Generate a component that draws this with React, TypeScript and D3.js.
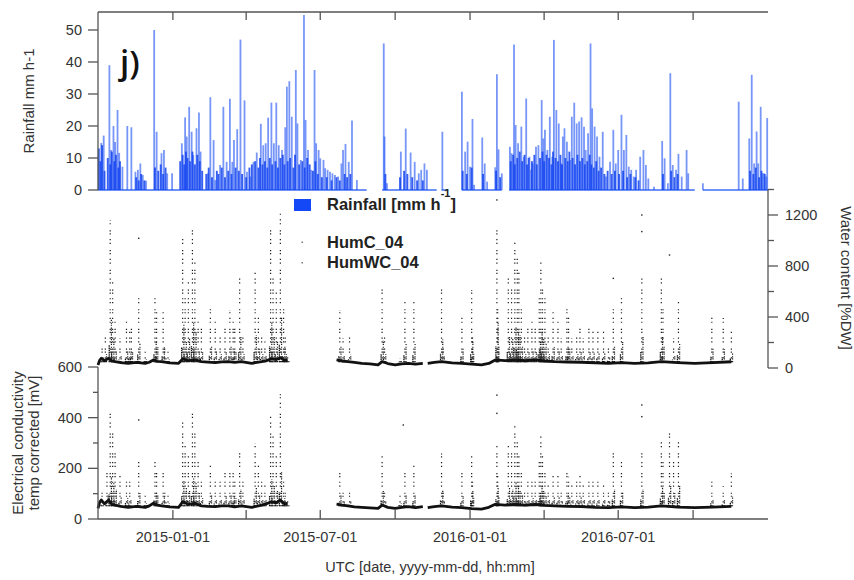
import React from 'react';
import * as d3 from 'd3';

// rainfall events: [days since 2014-10-01, mm h-1]
const rainfall: [number, number][] = [
  [4, 14.7], [7, 17], [14, 39], [16, 12.5], [19, 20], [21, 15], [24, 25], [26, 11.6], [30, 7.3], [36, 20], [41, 19.6],
  [46, 5.7], [49, 6.3], [52, 8.3], [55, 4.7], [59, 2.9], [69, 50], [72, 18.2], [78, 11.5], [81, 12.5], [85, 5.2], [91, 5.2],
  [103, 14.6], [107, 22.7], [109, 16.7], [112, 26], [115, 18.2], [117, 10.9], [121, 19.3], [124, 24.2], [126, 12], [135, 5.2],
  [138, 29], [142, 15.6], [144, 3.1], [150, 7.8], [154, 26], [158, 8.8], [162, 28.5], [165, 8.8], [167, 15.6], [171, 19],
  [175, 47], [180, 28], [183, 5.7], [187, 4.2], [191, 8.8], [195, 11.7], [200, 20.7], [203, 14], [206, 14.6], [209, 22.6],
  [213, 27.3], [216, 14.6], [219, 27.3], [222, 14], [226, 12.5], [230, 19.6], [232, 32.3], [235, 34], [238, 22.9], [243, 37.5],
  [245, 20.8], [249, 9.4], [253, 54.7], [255, 21.9], [258, 12.5], [262, 6.3], [266, 37.5], [268, 14.6], [271, 12.5], [273, 9.9],
  [277, 9.4], [279, 6.8], [282, 6.3], [285, 5.7], [288, 5.2], [291, 4.7], [295, 4.2], [299, 8.3], [301, 12.5], [304, 14.4],
  [308, 8.8], [312, 21.7], [318, 3.1], [351, 45.8], [352, 16.7], [355, 2.1], [372, 12], [378, 19.2], [384, 11.7], [389, 8.8],
  [394, 5.2], [397, 6.3], [401, 8.3], [404, 6.3], [423, 18.2], [447, 30.7], [451, 12], [454, 15.1], [457, 7.3], [460, 22.2],
  [462, 1.6], [472, 16.4], [475, 8.3], [478, 2.6], [488, 7.1], [490, 36.2], [492, 12.7], [496, 5.2], [506, 13.5], [508, 11.5],
  [511, 45.5], [513, 20.3], [516, 14.6], [520, 19.8], [523, 10.4], [526, 28.6], [530, 10.4], [532, 6.3], [534, 8.3], [538, 13.5],
  [541, 14], [545, 28.1], [547, 16.1], [549, 18.8], [552, 12.5], [555, 22.9], [558, 10.4], [560, 46.9], [563, 25], [566, 20.8],
  [569, 8.3], [571, 16.7], [573, 19.3], [576, 15.1], [580, 9.4], [582, 22.9], [585, 27.3], [588, 20.8], [591, 21.4], [594, 22.7],
  [597, 19.8], [599, 12.5], [602, 17.7], [605, 45.8], [607, 25.5], [610, 19.8], [613, 16.7], [616, 10.4], [620, 18.2], [624, 4.2],
  [629, 8.8], [633, 18.8], [636, 8.3], [639, 12.5], [643, 23.5], [646, 12.5], [649, 17.2], [652, 7.3], [655, 6.3], [658, 4.2],
  [661, 6.3], [666, 10.4], [670, 12.5], [673, 7.8], [676, 3.6], [683, 1], [693, 15.3], [696, 9.9], [700, 2.1], [703, 36.5],
  [706, 7.8], [710, 6.3], [713, 11.3], [717, 4.2], [723, 12.5], [725, 5.2], [743, 2.1], [787, 27.6], [792, 3.6], [800, 16.1],
  [803, 36], [806, 8.3], [809, 18.3], [811, 8.3], [814, 26], [816, 5.2], [818, 5.2], [821, 4.2], [822, 22.5],
];

// frequent low-intensity hours in the wet periods: [day, mm h-1]
const rainLow: [number, number][] = [
  [1, 13], [3, 9], [5, 14], [8, 6], [12, 10], [15, 8], [17, 12], [20, 9], [22, 11], [25, 7], [27, 9], [47, 4], [50, 3], [53, 5],
  [57, 3], [70, 7], [74, 6], [77, 8], [80, 5], [83, 7], [101, 9], [104, 11], [106, 8], [108, 12], [110, 10], [113, 9], [116, 12],
  [119, 8], [122, 11], [125, 9], [128, 6], [133, 5], [136, 7], [140, 4], [146, 6], [148, 5], [152, 7], [156, 4], [160, 6],
  [164, 5], [169, 7], [173, 6], [177, 5], [182, 4], [186, 7], [189, 8], [193, 9], [197, 7], [199, 10], [202, 8], [205, 9],
  [208, 7], [211, 10], [214, 8], [218, 9], [221, 7], [224, 10], [227, 11], [229, 8], [233, 9], [236, 10], [240, 7], [242, 11],
  [247, 8], [251, 9], [254, 7], [257, 10], [260, 8], [264, 6], [267, 9], [270, 5], [275, 4], [281, 4], [287, 3], [293, 4],
  [297, 3], [303, 5], [306, 4], [310, 5], [353, 5], [371, 4], [376, 6], [380, 5], [386, 4], [392, 3], [399, 3], [448, 6],
  [453, 5], [459, 7], [473, 5], [489, 6], [494, 4], [507, 9], [510, 11], [512, 8], [515, 10], [518, 12], [521, 9], [524, 11],
  [527, 8], [529, 10], [533, 9], [536, 11], [539, 8], [543, 10], [546, 12], [548, 9], [551, 11], [554, 10], [557, 8], [559, 12],
  [562, 10], [565, 9], [568, 11], [570, 8], [574, 10], [577, 9], [579, 12], [583, 10], [586, 8], [589, 11], [592, 9], [595, 10],
  [598, 8], [601, 9], [604, 11], [606, 8], [609, 7], [612, 9], [615, 6], [618, 7], [622, 5], [626, 6], [631, 5], [635, 6],
  [640, 5], [645, 6], [650, 4], [654, 5], [660, 4], [664, 3], [694, 5], [704, 6], [708, 4], [712, 5], [801, 6], [805, 5],
  [808, 7], [812, 4], [815, 6], [819, 5],
];

// periods with rain gauge records [from day, to day]
const rainRecords: [number, number][] = [[0, 330], [349, 416], [422, 429], [447, 496], [505, 733], [743, 823]];

// HumC_04 water content [%DW] baseline runs
const humcBaseline: [number, number][][] = [
  [[0, 24], [2, 60], [4, 76], [8, 58], [13, 76], [17, 55], [21, 50], [28, 42], [37, 37], [47, 44], [58, 37], [63, 45], [68, 63],
   [73, 52], [78, 50], [88, 40], [99, 37], [104, 71], [111, 58], [119, 63], [127, 50], [135, 46], [144, 42], [152, 48], [160, 50],
   [168, 44], [176, 50], [189, 37], [201, 50], [207, 58], [213, 71], [219, 66], [224, 81], [229, 60], [233, 63]],
  [[293, 63], [300, 55], [307, 50], [315, 44], [324, 37], [334, 33], [344, 24], [349, 50], [356, 35], [365, 24], [373, 33],
   [381, 37], [390, 31], [399, 37]],
  [[405, 37], [413, 44], [422, 50], [435, 40], [447, 37], [459, 30], [471, 24], [480, 36], [488, 63], [500, 58], [512, 63],
   [525, 57], [537, 63], [549, 55], [561, 50], [577, 47], [594, 45], [611, 40], [627, 37], [643, 42], [659, 37], [676, 40],
   [692, 50], [712, 42], [733, 37], [755, 42], [778, 49]],
];
// HumC_04 wet spells: [day, highest value]
const humcSpikes: [number, number][] = [
  [5, 181], [9, 259], [15, 1161], [18, 677], [21, 364], [27, 233], [35, 364], [39, 285], [41, 311], [50, 547], [58, 128],
  [70, 573], [72, 442], [80, 442], [82, 155], [86, 128], [104, 1043], [107, 573], [111, 677], [116, 1109], [119, 834],
  [123, 364], [127, 311], [138, 494], [144, 364], [150, 259], [156, 311], [162, 455], [166, 364], [168, 311], [174, 703],
  [178, 259], [193, 756], [197, 416], [201, 259], [205, 207], [212, 1096], [215, 730], [219, 599], [224, 1213], [228, 468],
  [230, 259], [233, 102], [297, 455], [301, 233], [309, 246], [349, 625], [352, 259], [371, 76], [377, 521], [388, 521],
  [422, 638], [424, 194], [447, 416], [459, 612], [460, 259], [490, 1096], [491, 468], [504, 717], [508, 651], [512, 991],
  [515, 873], [517, 756], [520, 494], [524, 259], [528, 311], [533, 364], [537, 311], [542, 573], [544, 847], [546, 651],
  [549, 547], [553, 259], [559, 442], [565, 364], [569, 233], [576, 468], [578, 416], [582, 233], [588, 259], [592, 311],
  [596, 233], [603, 311], [608, 298], [614, 285], [621, 285], [627, 181], [633, 468], [643, 573], [668, 730], [692, 730],
  [694, 468], [707, 233], [713, 521], [754, 402], [768, 392], [778, 285],
];
const humcSingles: [number, number][] = [[50, 1017], [490, 1318], [633, 703], [668, 1200], [668, 1070], [702, 886]];

// HumWC_04 electrical conductivity [mV] baseline runs
const humwcBaseline: [number, number][][] = [
  [[0, 42], [2, 66], [4, 75], [8, 60], [13, 75], [17, 58], [21, 55], [28, 50], [37, 46], [47, 50], [58, 46], [63, 52], [68, 62],
   [73, 55], [78, 52], [88, 48], [99, 46], [104, 68], [111, 58], [119, 62], [127, 52], [135, 50], [144, 49], [152, 52], [160, 52],
   [168, 48], [176, 52], [189, 46], [201, 55], [207, 60], [213, 68], [219, 64], [224, 75], [229, 60], [233, 62]],
  [[293, 59], [300, 55], [307, 52], [315, 48], [324, 46], [334, 44], [344, 42], [349, 55], [356, 46], [365, 42], [373, 46],
   [381, 49], [390, 45], [399, 49]],
  [[405, 45], [413, 49], [422, 52], [435, 47], [447, 45], [459, 41], [471, 39], [480, 46], [488, 58], [500, 55], [512, 58],
   [525, 55], [537, 58], [549, 54], [561, 52], [577, 50], [594, 49], [611, 46], [627, 45], [643, 48], [659, 45], [676, 47],
   [692, 52], [712, 47], [733, 45], [755, 47], [778, 50]],
];
const humwcSpikes: [number, number][] = [
  [5, 121], [11, 200], [15, 437], [18, 358], [21, 279], [27, 174], [35, 160], [39, 147], [50, 226], [58, 95], [70, 239],
  [72, 200], [80, 187], [82, 108], [86, 95], [104, 384], [107, 292], [111, 253], [116, 417], [119, 358], [123, 226],
  [127, 160], [138, 213], [144, 147], [150, 147], [156, 187], [162, 200], [166, 187], [168, 160], [174, 279], [178, 147],
  [193, 299], [197, 213], [201, 147], [205, 134], [212, 410], [215, 332], [219, 253], [224, 503], [228, 160], [230, 108],
  [233, 81], [297, 193], [301, 121], [309, 121], [349, 253], [352, 121], [371, 95], [377, 200], [388, 213], [422, 259],
  [424, 121], [447, 187], [459, 253], [460, 160], [490, 292], [491, 174], [504, 292], [508, 279], [512, 371], [515, 318],
  [517, 253], [520, 200], [524, 121], [528, 147], [533, 160], [537, 147], [542, 226], [544, 332], [546, 253], [549, 187],
  [553, 134], [559, 174], [565, 174], [569, 121], [576, 200], [578, 167], [582, 134], [588, 147], [592, 174], [596, 134],
  [603, 147], [608, 147], [614, 147], [621, 134], [627, 121], [633, 279], [643, 239], [668, 279], [692, 305], [694, 226],
  [702, 345], [707, 226], [713, 318], [754, 150], [768, 130], [778, 180],
];
const humwcSingles: [number, number][] = [[50, 391], [375, 371], [490, 489], [490, 417], [668, 450], [668, 404]];

const rainTicks = [0, 10, 20, 30, 40, 50];
const wcTicks = [0, 400, 800, 1200];
const wcMinor = [200, 600, 1000, 1400];
const ecTicks = [0, 200, 400, 600];
const ecMinor = [100, 300, 500];

const T0 = Date.UTC(2014, 9, 1);
const T1 = Date.UTC(2017, 0, 1);
const toDate = (d: number) => new Date(T0 + d * 864e5);

const FONT = '"Liberation Sans", Arial, Helvetica, sans-serif';
const AXIS = '#555';
const TXT = '#333';

const x = d3.scaleUtc().domain([new Date(T0), new Date(T1)]).range([98, 768]);
const yRain = d3.scaleLinear().domain([0, 50]).range([190, 30]);
const yWC = d3.scaleLinear().domain([0, 1400]).range([368, 189.5]);
const yEC = d3.scaleLinear().domain([0, 600]).range([519, 367]);

const quarters = d3.utcMonth.every(3)!.range(new Date(Date.UTC(2015, 0, 1)), new Date(T1));
const fmt = d3.utcFormat('%Y-%m-%d');

const Probe = ({ base, spikes, singles, y, floor }: {
  base: [number, number][][]; spikes: [number, number][]; singles: [number, number][];
  y: d3.ScaleLinear<number, number>; floor: number;
}) => {
  const line = d3.line<[number, number]>().x(d => x(toDate(d[0]))).y(d => y(d[1]));
  return (
    <g>
      {spikes.map(([d, v], i) => {
        const cx = x(toDate(d));
        const mid = floor + (v - floor) * 0.3;
        const low = floor + (v - floor) * 0.12;
        return (
          <g key={i}>
            <line x1={cx} x2={cx} y1={y(floor)} y2={y(v)} stroke="#1a1a1a" strokeWidth={1.2}
              strokeDasharray="1.2 2.6 1.2 4.5 1.2 1.8 1.2 6" />
            <line x1={cx + 1.2} x2={cx + 1.2} y1={y(floor)} y2={y(mid)} stroke="#1a1a1a" strokeWidth={1.2}
              strokeDasharray="1.2 1.6 1.2 0.8" />
            <line x1={cx - 1} x2={cx - 1} y1={y(floor)} y2={y(low)} stroke="#111" strokeWidth={1.3}
              strokeDasharray="1.5 0.7" />
          </g>
        );
      })}
      {singles.map(([d, v], i) => (
        <rect key={i} x={x(toDate(d)) - 0.7} y={y(v) - 0.7} width={1.4} height={1.4} fill="#222" />
      ))}
      {base.map((run, i) => (
        <path key={i} d={line(run) || ''} fill="none" stroke="#111" strokeWidth={2.8} strokeLinejoin="round" />
      ))}
    </g>
  );
};

export default function App() {
  return (
    <div style={{ position: 'absolute', left: 0, top: 0 }}>
      <svg width={854} height={580} style={{ display: 'block', background: '#fff' }} fontFamily={FONT}>
        {/* rainfall panel */}
        {rainRecords.map(([a, b], i) => (
          <line key={i} x1={x(toDate(a))} x2={x(toDate(b))} y1={yRain(0)} y2={yRain(0)} stroke="#3d6cf6" strokeWidth={1.5} />
        ))}
        {rainfall.map(([d, v], i) => (
          <line key={i} x1={x(toDate(d))} x2={x(toDate(d))} y1={yRain(0)} y2={yRain(v)}
            stroke="#2356f4" strokeOpacity={0.62} strokeWidth={1.8} />
        ))}
        {rainLow.map(([d, v], i) => (
          <line key={i} x1={x(toDate(d))} x2={x(toDate(d))} y1={yRain(0)} y2={yRain(v)}
            stroke="#1444f0" strokeOpacity={0.85} strokeWidth={1.9} />
        ))}
        <line x1={98} x2={768} y1={12} y2={12} stroke={AXIS} strokeWidth={1.3} />
        <line x1={98} x2={98} y1={12} y2={190} stroke={AXIS} strokeWidth={1.3} />
        {quarters.map((q, i) => (
          <line key={i} x1={x(q)} x2={x(q)} y1={12} y2={20} stroke={AXIS} strokeWidth={1.3} />
        ))}
        {rainTicks.map(t => (
          <g key={t}>
            <line x1={88} x2={98} y1={yRain(t)} y2={yRain(t)} stroke={AXIS} strokeWidth={1.3} />
            <text x={82} y={yRain(t) + 5} textAnchor="end" fontSize={14.5} fill={TXT}>{t}</text>
          </g>
        ))}
        <text transform="translate(34,101) rotate(-90)" textAnchor="middle" fontSize={15} fill={TXT}>Rainfall mm h-1</text>
        <text x={120} y={74} fontSize={33} fontWeight={600} fill="#111" fontFamily='"Open Sans", sans-serif'>j)</text>

        {/* probe panels */}
        <Probe base={humcBaseline} spikes={humcSpikes} singles={humcSingles} y={yWC} floor={45} />
        <Probe base={humwcBaseline} spikes={humwcSpikes} singles={humwcSingles} y={yEC} floor={50} />

        {/* right axis: water content */}
        <line x1={768} x2={768} y1={189.5} y2={368} stroke={AXIS} strokeWidth={1.3} />
        {wcTicks.map(t => (
          <g key={t}>
            <line x1={768} x2={778} y1={yWC(t)} y2={yWC(t)} stroke={AXIS} strokeWidth={1.3} />
            <text x={785} y={yWC(t) + 5} fontSize={14.5} fill={TXT}>{t}</text>
          </g>
        ))}
        {wcMinor.map(t => (
          <line key={t} x1={768} x2={774} y1={yWC(t)} y2={yWC(t)} stroke={AXIS} strokeWidth={1.3} />
        ))}
        <text transform="translate(841,278) rotate(90)" textAnchor="middle" fontSize={15} fill={TXT}>Water content [%DW]</text>

        {/* left axis: conductivity */}
        <line x1={98} x2={98} y1={367} y2={519} stroke={AXIS} strokeWidth={1.3} />
        {ecTicks.map(t => (
          <g key={t}>
            <line x1={88} x2={98} y1={yEC(t)} y2={yEC(t)} stroke={AXIS} strokeWidth={1.3} />
            <text x={82} y={yEC(t) + 5} textAnchor="end" fontSize={14.5} fill={TXT}>{t}</text>
          </g>
        ))}
        {ecMinor.map(t => (
          <line key={t} x1={93} x2={98} y1={yEC(t)} y2={yEC(t)} stroke={AXIS} strokeWidth={1.3} />
        ))}
        <text transform="translate(0,443) rotate(-90)" textAnchor="middle" fontSize={15} fill={TXT}>
          <tspan x={0} y={23}>Electrical conductivity</tspan>
          <tspan x={0} y={39}>temp corrected [mV]</tspan>
        </text>

        {/* bottom time axis */}
        <line x1={98} x2={768} y1={519} y2={519} stroke={AXIS} strokeWidth={1.3} />
        {quarters.map((q, i) => (
          <g key={i}>
            <line x1={x(q)} x2={x(q)} y1={510} y2={519} stroke={AXIS} strokeWidth={1.3} />
            {q.getUTCMonth() % 6 === 0 && (
              <text x={x(q)} y={542} textAnchor="middle" fontSize={14.5} fill={TXT}>{fmt(q)}</text>
            )}
          </g>
        ))}
        <text x={430} y={572} textAnchor="middle" fontSize={14.5} fill={TXT}>UTC [date, yyyy-mm-dd, hh:mm]</text>

        {/* legend */}
        <rect x={294} y={199} width={17} height={12} fill="#1447f5" />
        <text x={327} y={210} fontSize={16.5} fontWeight="bold" fill="#222">
          Rainfall [mm h<tspan dy={-13} fontSize={11}>-1</tspan><tspan dy={13}>]</tspan>
        </text>
        <rect x={301.5} y={241.5} width={1.5} height={1.5} fill="#777" />
        <text x={327} y={248} fontSize={16.5} fontWeight="bold" fill="#222">HumC_04</text>
        <rect x={301.5} y={262} width={1.5} height={1.5} fill="#777" />
        <text x={327} y={268} fontSize={16.5} fontWeight="bold" fill="#222">HumWC_04</text>
      </svg>
    </div>
  );
}
